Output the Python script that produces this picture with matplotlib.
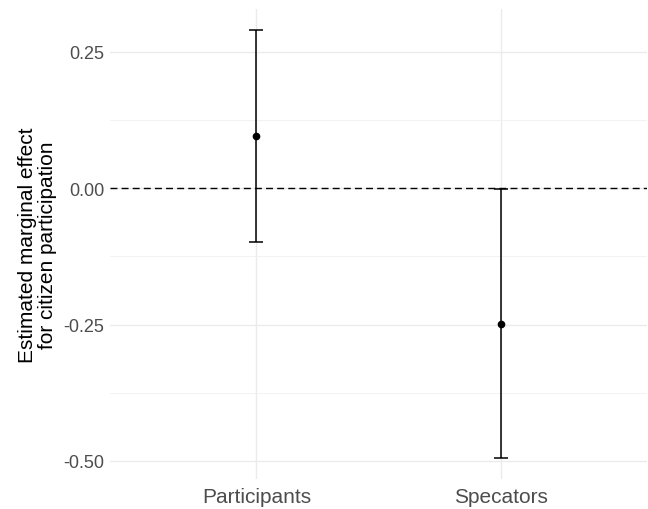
import numpy as np
import matplotlib.pyplot as plt
from matplotlib.ticker import MultipleLocator

plt.rcParams['font.family'] = ['Liberation Sans', 'DejaVu Sans']

# Marginal effects and their 95% intervals
groups = ['Participants', 'Specators']
estimate = [0.0956, -0.2498]
lower = [-0.098, -0.494]
upper = [0.2887, -0.002]

x = np.arange(1, len(groups) + 1)
est = np.array(estimate)
err = [est - np.array(lower), np.array(upper) - est]

fig = plt.figure(figsize=(6.48, 5.1), dpi=100)
ax = fig.add_axes([0.1698, 0.0588, 0.8287, 0.9216])

ax.axhline(0, color='black', linestyle=(0, (5, 3)), linewidth=1.0, zorder=2)
ax.errorbar(x, est, yerr=err, fmt='o', color='black', markersize=4.5,
            elinewidth=1.1, capsize=4.7, capthick=1.1, zorder=3)

ax.set_xlim(0.4, 2.6)
ax.set_ylim(-0.533, 0.328)
ax.set_xticks(x)
ax.set_xticklabels(groups)
ax.yaxis.set_major_locator(MultipleLocator(0.25))
ax.yaxis.set_minor_locator(MultipleLocator(0.125))
ax.yaxis.set_major_formatter(plt.FuncFormatter(lambda v, p: f'{v:.2f}'))

ax.grid(which='major', color='#EBEBEB', linewidth=1.0, zorder=0)
ax.grid(which='minor', axis='y', color='#F0F0F0', linewidth=0.6, zorder=0)
ax.set_axisbelow(True)
for s in ax.spines.values():
    s.set_visible(False)
ax.tick_params(which='both', length=0)
ax.tick_params(axis='y', labelsize=13, labelcolor='#4D4D4D', pad=4)
ax.tick_params(axis='x', labelsize=15, labelcolor='#4D4D4D', pad=6)

ax.set_ylabel('Estimated marginal effect\nfor citizen participation', fontsize=15,
              linespacing=1.05, labelpad=5)

fig.savefig('out.png', dpi=100)
